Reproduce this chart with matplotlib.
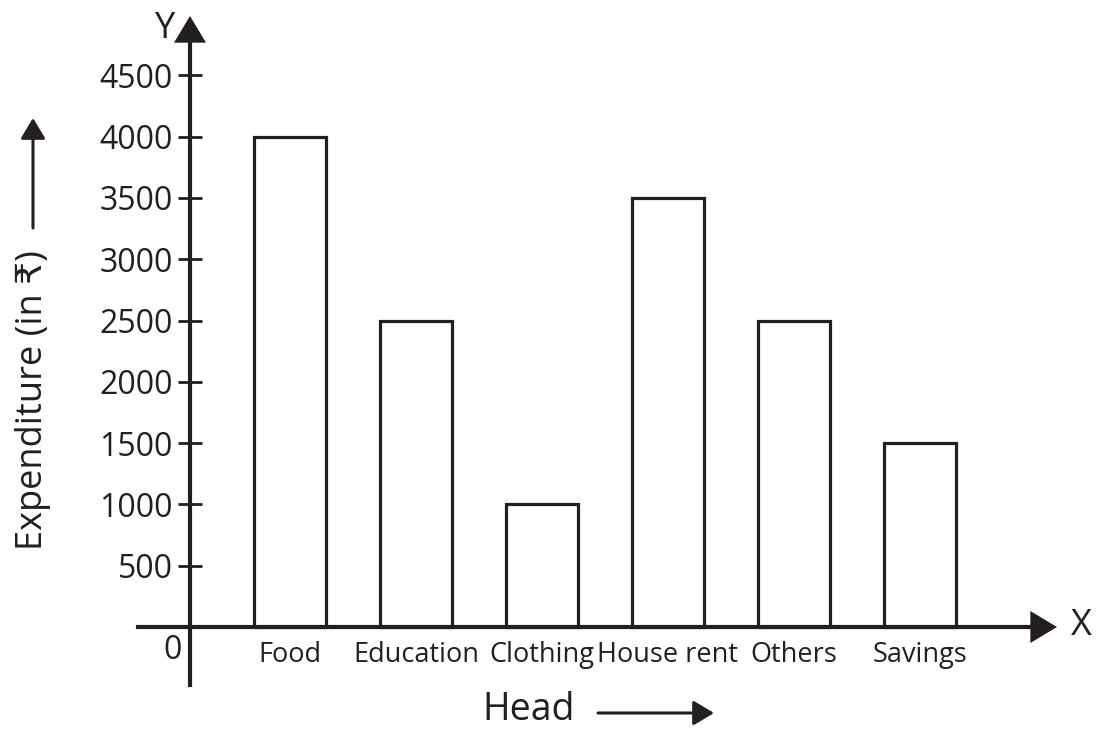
import matplotlib
matplotlib.use("Agg")
import matplotlib.pyplot as plt

heads = ["Food", "Education", "Clothing", "House rent", "Others", "Savings"]
expenditure = [4000, 2500, 1000, 3500, 2500, 1500]
y_ticks = [500, 1000, 1500, 2000, 2500, 3000, 3500, 4000, 4500]

ink = "#231f20"
plt.rcParams['font.family'] = ['Open Sans', 'DejaVu Sans']

W, H = 1096, 730
fig = plt.figure(figsize=(W / 100, H / 100), dpi=100)
ax = fig.add_axes([0, 0, 1, 1])

# pixel mapping: bar i centred at 290 + 126*i px, value 0 at 627 px from top
px_per_cat = 126.0
units_per_px = 500 / 61.3
ax.set_xlim(-290 / px_per_cat, (W - 290) / px_per_cat)
ax.set_ylim(-(H - 627) * units_per_px, 627 * units_per_px)

x = list(range(len(heads)))
ax.bar(x, expenditure, width=0.565, facecolor="white", edgecolor=ink, linewidth=2.3, zorder=2)

y_axis_x = (190 - 290) / px_per_cat
for s in ["top", "right"]:
    ax.spines[s].set_visible(False)
ax.spines["left"].set_position(("data", y_axis_x))
ax.spines["bottom"].set_position(("data", 0))
ax.spines["left"].set_bounds(-(685 - 627) * units_per_px, (627 - 30) * units_per_px)
ax.spines["bottom"].set_bounds((138 - 290) / px_per_cat, (1040 - 290) / px_per_cat)
for s in ["left", "bottom"]:
    ax.spines[s].set_linewidth(3)
    ax.spines[s].set_color(ink)
    ax.spines[s].set_zorder(3)

ax.set_yticks(y_ticks)
ax.set_yticklabels([str(v) for v in y_ticks])
ax.tick_params(axis="y", direction="inout", length=17, width=2, color=ink,
               labelsize=23, labelcolor=ink, pad=4)
ax.set_xticks(x)
ax.set_xticklabels(heads)
ax.tick_params(axis="x", direction="in", length=11, width=1.6, color=ink,
               labelsize=19.5, labelcolor=ink, pad=10)

# arrow heads on the axes
head = dict(arrowstyle="-|>,head_length=0.4,head_width=0.24", mutation_scale=48,
            color=ink, lw=0, shrinkA=0, shrinkB=0)
ax.annotate("", xy=(y_axis_x, (627 - 16) * units_per_px),
            xytext=(y_axis_x, (627 - 60) * units_per_px), arrowprops=head)
ax.annotate("", xy=((1057 - 290) / px_per_cat, 0),
            xytext=((1010 - 290) / px_per_cat, 0), arrowprops=head)

def fpx(px, py):
    return px / W, 1 - py / H

fig.text(*fpx(165, 38), "Y", fontsize=26, color=ink, ha="center", va="baseline")
fig.text(*fpx(1081, 635), "X", fontsize=26, color=ink, ha="center", va="baseline")
fig.text(*fpx(173, 659), "0", fontsize=23, color=ink, ha="center", va="baseline")

fig.text(*fpx(51, 400), "Expenditure (in \u20b9)", fontsize=26, color=ink,
         rotation=90, ha="right", va="center")
fig.text(*fpx(529, 729), "Head", fontsize=27, color=ink, ha="center", va="bottom")

small = dict(arrowstyle="-|>,head_length=0.5,head_width=0.3", mutation_scale=25,
             color=ink, lw=2.2, shrinkA=0, shrinkB=0)
ax.annotate("", xy=fpx(33, 118), xytext=fpx(33, 228), xycoords="figure fraction",
            textcoords="figure fraction", arrowprops=small)
ax.annotate("", xy=fpx(714, 713), xytext=fpx(598, 713), xycoords="figure fraction",
            textcoords="figure fraction", arrowprops=small)

fig.savefig("out.png", dpi=100)
